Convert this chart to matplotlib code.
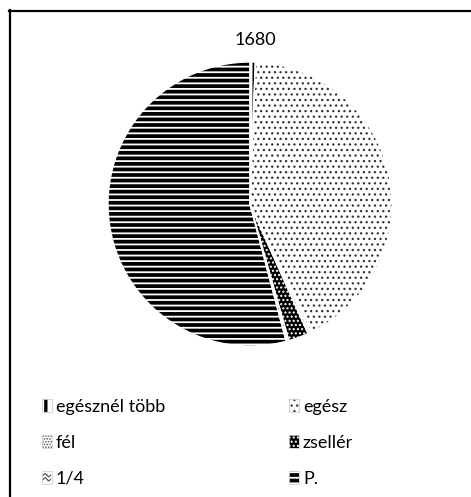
import numpy as np
import matplotlib
matplotlib.use("Agg")
import matplotlib.pyplot as plt
from matplotlib.lines import Line2D
from matplotlib.patches import Rectangle
from matplotlib.legend_handler import HandlerPatch

plt.rcParams['font.family'] = ['Lato', 'DejaVu Sans']

TITLE = "1680"
labels = ["egésznél több", "egész", "fél", "zsellér", "1/4", "P."]
shares = [0.6, 42.4, 0.3, 2.3, 0.3, 54.1]   # percent of households

# hatch, face, hatch colour, hatch line width (pt)
styles = [
    ("||", "white", "black", 2.4),
    ("...", "white", "#333333", 0.9),
    ("......", "white", "#555555", 0.8),
    ("....", "black", "white", 1.0),
    ("-", "white", "black", 0.8),
    ("---", "white", "black", 2.7),
]


class BoxHandler(HandlerPatch):
    # hatched key with a faint frame
    def create_artists(self, legend, orig_handle, xdescent, ydescent,
                       width, height, fontsize, trans):
        arts = super().create_artists(legend, orig_handle, xdescent, ydescent,
                                      width, height, fontsize, trans)
        arts[0].set_hatch_linewidth(orig_handle.get_hatch_linewidth())
        arts.append(Rectangle((-xdescent, -ydescent), width, height, fill=False,
                              edgecolor="#d0d0d0", lw=0.6, transform=trans))
        return arts


class WaveHandler(HandlerPatch):
    # legend key for 1/4: two small waves in a box
    def create_artists(self, legend, orig_handle, xdescent, ydescent,
                       width, height, fontsize, trans):
        box = Rectangle((-xdescent, -ydescent), width, height,
                        facecolor="white", edgecolor="#d0d0d0", lw=0.6,
                        transform=trans)
        xs = np.linspace(-xdescent + 1, -xdescent + width - 1, 20)
        amp = height * 0.12
        arts = [box]
        for f in (0.35, 0.68):
            ys = -ydescent + height * f + amp * np.sin((xs - xs[0]) / (xs[-1] - xs[0]) * 2 * np.pi)
            arts.append(Line2D(xs, ys, color="#444444", lw=0.8, transform=trans))
        return arts


W, H = 471, 497
fig = plt.figure(figsize=(W / 100, H / 100), dpi=100)

# pie area
cx, cy, r = 250, 204, 142
ax = fig.add_axes([(cx - r) / W, (H - cy - r) / H, 2 * r / W, 2 * r / H])
wedges, _ = ax.pie(shares, startangle=90, counterclock=False,
                   wedgeprops=dict(linewidth=0))
for w, (hatch, face, hcol, hlw) in zip(wedges, styles):
    w.set_facecolor(face)
    w.set_edgecolor(hcol)
    w.set_hatch(hatch)
    w.set_hatch_linewidth(hlw)
    w.set_linewidth(0)

# white separators between slices
sep, _ = ax.pie(shares, startangle=90, counterclock=False,
                wedgeprops=dict(fill=False, edgecolor="white", linewidth=1.0))
ax.set_xlim(-1, 1)
ax.set_ylim(-1, 1)
ax.set_aspect("equal")
ax.axis("off")

fig.text(255 / W, 1 - 40 / H, TITLE, ha="center", va="center", fontsize=13)

# legend reads row by row: reorder for column-major filling
order = [0, 2, 4, 1, 3, 5]
hmap = {w: BoxHandler() for w in wedges}
hmap[wedges[4]] = WaveHandler()
leg = fig.legend([wedges[i] for i in order], [labels[i] for i in order],
                 ncol=2, loc="upper left",
                 bbox_to_anchor=(42 / W, 1 - 399 / H), frameon=False,
                 fontsize=13, handlelength=0.55, handleheight=0.7,
                 handletextpad=0.2, columnspacing=6.9, labelspacing=1.1,
                 borderaxespad=0, borderpad=0, handler_map=hmap)

# chart frame (top and left edges)
fig.add_artist(Line2D([9 / W, 1], [1 - 10.5 / H, 1 - 10.5 / H], color="black", lw=1.6))
fig.add_artist(Line2D([10 / W, 10 / W], [0, 1 - 10 / H], color="black", lw=1.6))

fig.savefig("out.png", dpi=100)
